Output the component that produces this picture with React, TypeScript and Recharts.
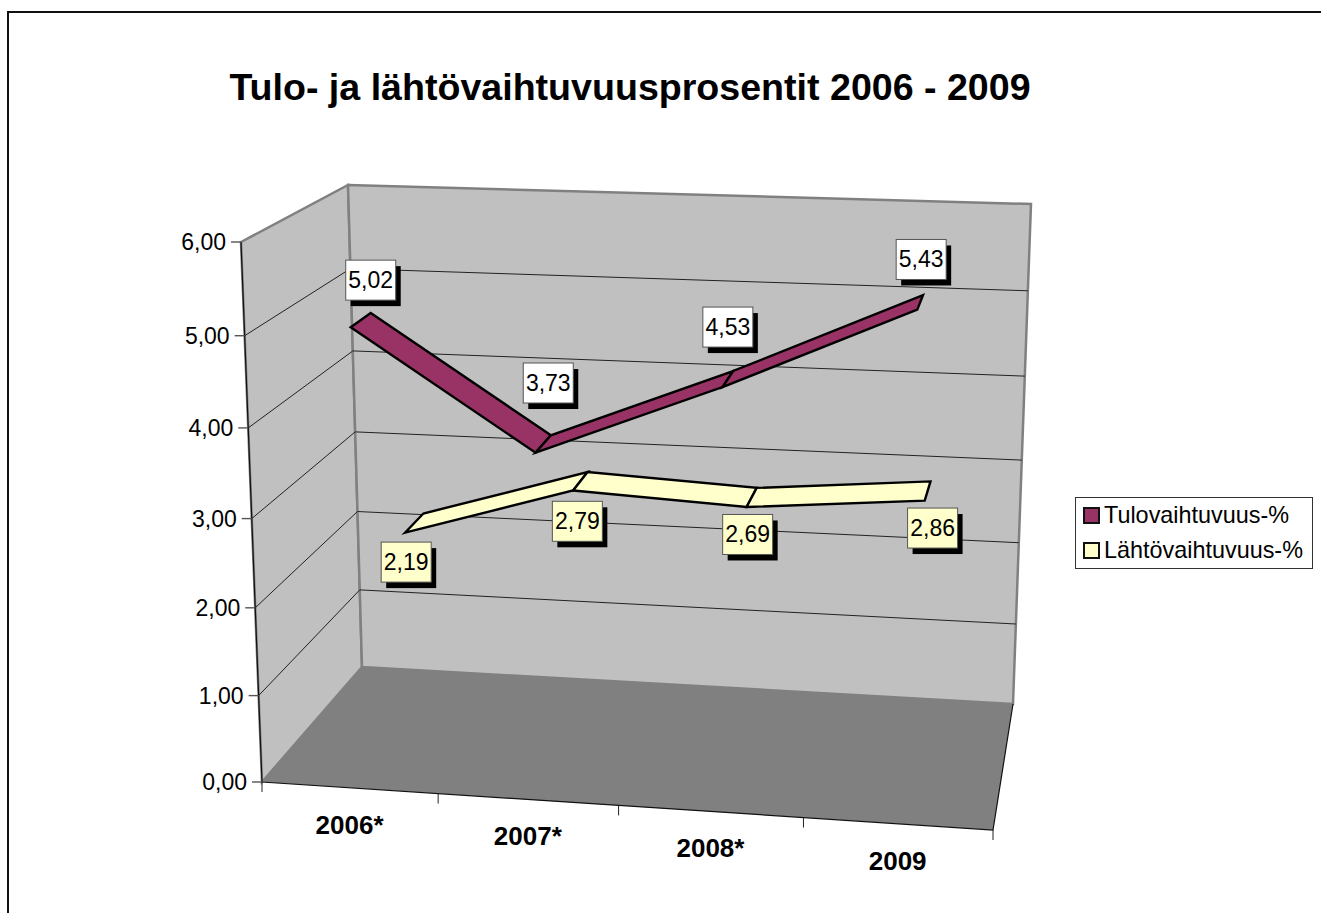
import { ComposedChart, XAxis, YAxis, Line, Legend, Customized } from 'recharts'

const CATEGORIES = ['2006*', '2007*', '2008*', '2009']
const TULO_VALUES = [5.02, 3.73, 4.53, 5.43]
const LAHTO_VALUES = [2.19, 2.79, 2.69, 2.86]
const VALUE_TICKS = [0, 1, 2, 3, 4, 5, 6]

const WIDTH = 1321
const HEIGHT = 913
const FONT = '"Liberation Sans", Arial, sans-serif'

// plot rectangle = front plane of the box, it gets warped by project()
const PLOT = { left: 262, top: 242, width: 731, height: 540 }

// box corners on screen
const FRONT = { bl: [262, 782], br: [993, 830], tl: [241, 242], tr: [1016, 268] }
const BACK = { bl: [362, 667], br: [1013, 704], tl: [348, 185], tr: [1031, 204] }

const TULO_DEPTH = [0.15, 0.36]
const LAHTO_DEPTH = [0.66, 0.86]

// label box offset from the ribbon middle
const TULO_LABEL_OFFSET = [[10, -40], [5, -61], [0, -52], [1, -43]]
const LAHTO_LABEL_OFFSET = [[-8, 39], [-3, 40], [-4, 37], [5, 37]]

const chartData = CATEGORIES.map((year, i) => ({
  year,
  tulo: TULO_VALUES[i],
  lahto: LAHTO_VALUES[i],
}))

function warp(t: number, k: number): number {
  return t / (t + (1 - t) * k)
}

function lerp(a: number, b: number, t: number): number {
  return a + (b - a) * t
}

// u, v in 0..1 on the plot, d = depth (0 front, 1 back)
function projectUnit(u: number, v: number, d: number): [number, number] {
  const uw = warp(u, 1.05)
  const vw = warp(v, 1.05)
  const corner = (box: typeof FRONT, axis: number) =>
    lerp(lerp(box.bl[axis], box.br[axis], uw), lerp(box.tl[axis], box.tr[axis], uw), vw)
  return [
    lerp(corner(FRONT, 0), corner(BACK, 0), d),
    lerp(corner(FRONT, 1), corner(BACK, 1), d),
  ]
}

function projectPlot(x: number, y: number, d: number): [number, number] {
  return projectUnit((x - PLOT.left) / PLOT.width, (PLOT.top + PLOT.height - y) / PLOT.height, d)
}

function toPath(pts: [number, number][]): string {
  return pts.map((p, i) => `${i === 0 ? 'M' : 'L'}${p[0].toFixed(1)},${p[1].toFixed(1)}`).join(' ') + ' Z'
}

function formatValue(v: number): string {
  return v.toFixed(2).replace('.', ',')
}

function Walls() {
  const wall = (a: number[], b: number[], c: number[], e: number[]) => `M${a} L${b} L${c} L${e} Z`
  return (
    <g>
      <path d="M8,913 L8,12 L1321,12" fill="none" stroke="#111" strokeWidth={2} />
      <text
        x={630}
        y={100}
        textAnchor="middle"
        fontFamily={FONT}
        fontWeight="bold"
        fontSize={37.6}
        fill="#000"
      >
        Tulo- ja lähtövaihtuvuusprosentit 2006 - 2009
      </text>
      <path d={wall(FRONT.tl, BACK.tl, BACK.bl, FRONT.bl)} fill="#c0c0c0" stroke="#808080" strokeWidth={2.5} />
      <path d={wall(BACK.tl, BACK.tr, BACK.br, BACK.bl)} fill="#c0c0c0" stroke="#808080" strokeWidth={2.5} />
      <path d={wall(FRONT.bl, BACK.bl, BACK.br, FRONT.br)} fill="#808080" />
      {VALUE_TICKS.slice(1, -1).map((t) => {
        const v = t / 6
        const a = projectUnit(0, v, 0)
        const b = projectUnit(0, v, 1)
        const c = projectUnit(1, v, 1)
        return <path key={t} d={`M${a} L${b} L${c}`} fill="none" stroke="#222" strokeWidth={1} />
      })}
      <path d={`M${FRONT.tl} L${FRONT.bl} L${FRONT.br} L${BACK.br}`} fill="none" stroke="#111" strokeWidth={1.2} />
    </g>
  )
}

function yTick(props: any) {
  const { y, payload } = props
  const p = projectPlot(PLOT.left, y, 0)
  return (
    <g>
      <line x1={p[0] - 10} y1={p[1]} x2={p[0]} y2={p[1]} stroke="#555" strokeWidth={1.4} />
      <text
        x={p[0] - 15}
        y={p[1] + 8}
        textAnchor="end"
        fontFamily={FONT}
        fontSize={23}
        fill="#000"
      >
        {formatValue(payload.value)}
      </text>
    </g>
  )
}

function xTick(props: any) {
  const { x, payload, index } = props
  const band = PLOT.width / CATEGORIES.length
  const mid = projectPlot(x, PLOT.top + PLOT.height, 0)
  const start = projectPlot(x - band / 2, PLOT.top + PLOT.height, 0)
  const end = projectPlot(x + band / 2, PLOT.top + PLOT.height, 0)
  return (
    <g>
      <line x1={start[0]} y1={start[1]} x2={start[0]} y2={start[1] + 10} stroke="#222" strokeWidth={1} />
      {index === CATEGORIES.length - 1 && (
        <line x1={end[0]} y1={end[1]} x2={end[0]} y2={end[1] + 10} stroke="#222" strokeWidth={1} />
      )}
      <text
        x={mid[0]}
        y={mid[1] + 46}
        textAnchor="middle"
        fontFamily={FONT}
        fontWeight="bold"
        fontSize={26}
        fill="#000"
      >
        {payload.value}
      </text>
    </g>
  )
}

// the whole ribbon is drawn once, from the point list recharts passes to each dot
function ribbonDot(depth: number[], fill: string) {
  return (props: any) => {
    const { index, points, key } = props
    if (index !== 0 || !points) return <g key={key ?? index} />
    return (
      <g key={key ?? index}>
        {points.slice(0, -1).map((pt: any, i: number) => {
          const next = points[i + 1]
          const quad = [
            projectPlot(pt.x, pt.y, depth[0]),
            projectPlot(next.x, next.y, depth[0]),
            projectPlot(next.x, next.y, depth[1]),
            projectPlot(pt.x, pt.y, depth[1]),
          ]
          return <path key={i} d={toPath(quad)} fill={fill} stroke="#000" strokeWidth={2.4} strokeLinejoin="miter" />
        })}
      </g>
    )
  }
}

function valueLabel(depth: number[], offsets: number[][], fill: string) {
  return (props: any) => {
    const { x, y, value, index } = props
    const p = projectPlot(x, y, (depth[0] + depth[1]) / 2)
    const cx = p[0] + offsets[index][0]
    const cy = p[1] + offsets[index][1]
    return (
      <g key={index}>
        <rect x={cx - 20} y={cy - 14} width={50} height={40} fill="#000" />
        <rect x={cx - 25} y={cy - 20} width={50} height={40} fill={fill} stroke="#555" strokeWidth={1} />
        <text x={cx} y={cy + 8} textAnchor="middle" fontFamily={FONT} fontSize={23} fill="#000">
          {formatValue(value)}
        </text>
      </g>
    )
  }
}

function LegendBox(props: any) {
  const { payload } = props
  return (
    <div
      style={{
        width: 236,
        height: 70,
        border: '1px solid #333',
        boxSizing: 'content-box',
        fontFamily: FONT,
        fontSize: 23.4,
        background: '#fff',
      }}
    >
      {(payload ?? []).map((entry: any) => (
        <div key={entry.value} style={{ display: 'flex', alignItems: 'center', height: 35, paddingLeft: 7 }}>
          <span
            style={{
              display: 'inline-block',
              width: 13,
              height: 13,
              background: entry.color,
              border: '2px solid #111',
              marginRight: 4,
            }}
          />
          <span style={{ color: '#000', lineHeight: '35px', whiteSpace: 'nowrap' }}>{entry.value}</span>
        </div>
      ))}
    </div>
  )
}

export default function App() {
  return (
    <div style={{ width: WIDTH, height: HEIGHT, position: 'relative', overflow: 'hidden' }}>
      <style>{'body{margin:0;overflow:hidden}'}</style>
      <ComposedChart
        width={WIDTH}
        height={HEIGHT}
        data={chartData}
        margin={{
          left: PLOT.left - 60,
          top: PLOT.top,
          right: WIDTH - PLOT.left - PLOT.width,
          bottom: HEIGHT - PLOT.top - PLOT.height - 30,
        }}
      >
        <Customized component={Walls} />
        <XAxis dataKey="year" scale="band" height={30} axisLine={false} tickLine={false} interval={0} tick={xTick} />
        <YAxis
          width={60}
          type="number"
          domain={[0, 6]}
          ticks={VALUE_TICKS}
          axisLine={false}
          tickLine={false}
          interval={0}
          tick={yTick}
        />
        <Legend
          content={LegendBox}
          itemSorter={null}
          layout="vertical"
          wrapperStyle={{ position: 'absolute', left: 1075, top: 497, width: 238, height: 0, overflow: 'visible' }}
        />
        <Line
          dataKey="tulo"
          name="Tulovaihtuvuus-%"
          stroke="#993366"
          strokeWidth={0}
          dot={ribbonDot(TULO_DEPTH, '#993366')}
          label={valueLabel(TULO_DEPTH, TULO_LABEL_OFFSET, '#ffffff')}
          isAnimationActive={false}
        />
        <Line
          dataKey="lahto"
          name="Lähtövaihtuvuus-%"
          stroke="#ffffcc"
          strokeWidth={0}
          dot={ribbonDot(LAHTO_DEPTH, '#ffffcc')}
          label={valueLabel(LAHTO_DEPTH, LAHTO_LABEL_OFFSET, '#ffffcc')}
          isAnimationActive={false}
        />
      </ComposedChart>
    </div>
  )
}
